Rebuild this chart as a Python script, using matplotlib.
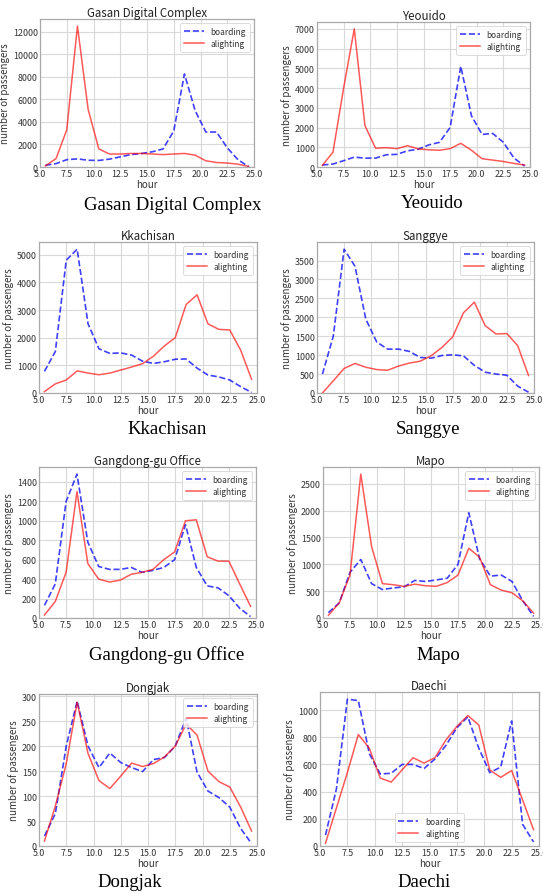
import matplotlib
matplotlib.use("Agg")
import matplotlib.pyplot as plt

plt.rcParams['font.family'] = ['Noto Sans CJK KR', 'DejaVu Sans']

hours = [5.5, 6.5, 7.5, 8.5, 9.5, 10.5, 11.5, 12.5, 13.5, 14.5,
         15.5, 16.5, 17.5, 18.5, 19.5, 20.5, 21.5, 22.5, 23.5, 24.5]

stations = ["Gasan Digital Complex", "Yeouido", "Kkachisan", "Sanggye",
            "Gangdong-gu Office", "Mapo", "Dongjak", "Daechi"]

gasan_board = [150, 300, 650, 720, 600, 580, 700, 900, 1100, 1200,
               1350, 1600, 3200, 8250, 5000, 3100, 3100, 1700, 650, 30]
gasan_alight = [100, 750, 3300, 12500, 5100, 1600, 1150, 1150, 1200, 1200,
                1150, 1100, 1150, 1200, 1050, 550, 400, 350, 250, 50]

yeouido_board = [100, 150, 320, 500, 450, 450, 620, 640, 820, 900,
                 1120, 1250, 2000, 5100, 2600, 1650, 1700, 1250, 450, 50]
yeouido_alight = [80, 750, 4000, 7000, 2100, 950, 980, 930, 1080, 920,
                  870, 850, 930, 1200, 850, 420, 350, 280, 180, 100]

kkachisan_board = [780, 1500, 4800, 5200, 2500, 1600, 1430, 1450, 1370, 1150,
                   1070, 1130, 1220, 1230, 900, 650, 580, 470, 230, 20]
kkachisan_alight = [50, 330, 470, 800, 720, 660, 720, 830, 940, 1060,
                    1330, 1700, 2000, 3200, 3550, 2500, 2300, 2280, 1550, 500]

sanggye_board = [500, 1500, 3800, 3350, 1950, 1350, 1160, 1160, 1100, 940,
                 920, 990, 1010, 980, 730, 550, 500, 470, 180, 20]
sanggye_alight = [0, 320, 650, 780, 680, 620, 600, 710, 790, 840,
                  980, 1200, 1480, 2120, 2400, 1780, 1560, 1570, 1250, 460]

gangdong_board = [130, 350, 1200, 1480, 780, 530, 500, 500, 520, 470,
                  490, 520, 600, 960, 520, 330, 310, 230, 100, 15]
gangdong_alight = [30, 170, 470, 1300, 560, 400, 370, 390, 450, 470,
                   500, 600, 680, 1000, 1010, 630, 585, 585, 350, 120]

mapo_board = [100, 280, 850, 1090, 640, 530, 560, 580, 700, 680,
              710, 740, 1000, 1960, 1100, 780, 800, 680, 320, 30]
mapo_alight = [50, 280, 800, 2680, 1330, 640, 620, 590, 630, 600,
               590, 660, 800, 1300, 1130, 620, 520, 470, 320, 90]

dongjak_board = [20, 65, 200, 290, 200, 157, 186, 167, 157, 149,
                 173, 177, 200, 256, 148, 110, 97, 78, 35, 5]
dongjak_alight = [10, 80, 165, 288, 185, 131, 115, 140, 166, 159,
                  165, 178, 200, 244, 222, 150, 129, 118, 78, 30]

daechi_board = [80, 420, 1080, 1070, 680, 530, 535, 600, 600, 570,
                640, 740, 870, 950, 720, 540, 580, 920, 160, 30]
daechi_alight = [20, 280, 540, 820, 720, 500, 470, 560, 650, 610,
                 650, 780, 880, 960, 890, 560, 505, 555, 340, 120]

boarding = [gasan_board, yeouido_board, kkachisan_board, sanggye_board,
            gangdong_board, mapo_board, dongjak_board, daechi_board]
alighting = [gasan_alight, yeouido_alight, kkachisan_alight, sanggye_alight,
             gangdong_alight, mapo_alight, dongjak_alight, daechi_alight]

W, H = 543, 895
fig = plt.figure(figsize=(W / 100, H / 100), dpi=100)

# axes boxes in pixels: left, right, top, bottom ; caption centre x, y
boxes = [(40, 254, 20, 168, 173, 205), (317, 530, 23, 168, 432, 204),
         (39, 257, 243, 394, 167, 430), (317, 534, 243, 394, 428, 430),
         (39, 256, 468, 619, 167, 655), (323, 539, 468, 619, 438, 656),
         (39, 257, 695, 847, 130, 883), (320, 539, 693, 847, 424, 883)]

txt = '#333333'
for i, name in enumerate(stations):
    l, r, t, b, cx, cy = boxes[i]
    ax = fig.add_axes([l / W, 1 - b / H, (r - l) / W, (b - t) / H])
    ax.plot(hours, boarding[i], '--', color='blue', alpha=0.75, lw=1.2, label='boarding')
    ax.plot(hours, alighting[i], '-', color='red', alpha=0.65, lw=1.1, label='alighting')
    ax.set_xlim(5.0, 25.0)
    ax.set_ylim(bottom=0)
    ax.set_xticks([5.0, 7.5, 10.0, 12.5, 15.0, 17.5, 20.0, 22.5, 25.0])
    ax.grid(True, color='#d9d9d9', lw=0.8)
    ax.set_axisbelow(True)
    for s in ax.spines.values():
        s.set_color('#aaaaaa')
        s.set_linewidth(0.9)
    ax.tick_params(length=0, pad=1.5, labelsize=6.4, colors=txt)
    ax.set_title(name, fontsize=8.3, color='#222222', pad=2)
    ax.set_xlabel('hour', fontsize=7, color=txt, labelpad=1)
    ax.set_ylabel('number of passengers', fontsize=7, color=txt, labelpad=2)
    loc = 'lower center' if name == 'Daechi' else 'upper right'
    leg = ax.legend(loc=loc, fontsize=6, frameon=True, handlelength=2.4,
                    borderpad=0.45, labelspacing=0.35)
    leg.get_frame().set_edgecolor('#cccccc')
    leg.get_frame().set_linewidth(0.6)
    for t_ in leg.get_texts():
        t_.set_color(txt)
    fig.text(cx / W, 1 - cy / H, name, family='Liberation Serif', fontsize=13.5,
             ha='center', va='center', color='black')

fig.savefig('out.png', dpi=100)
